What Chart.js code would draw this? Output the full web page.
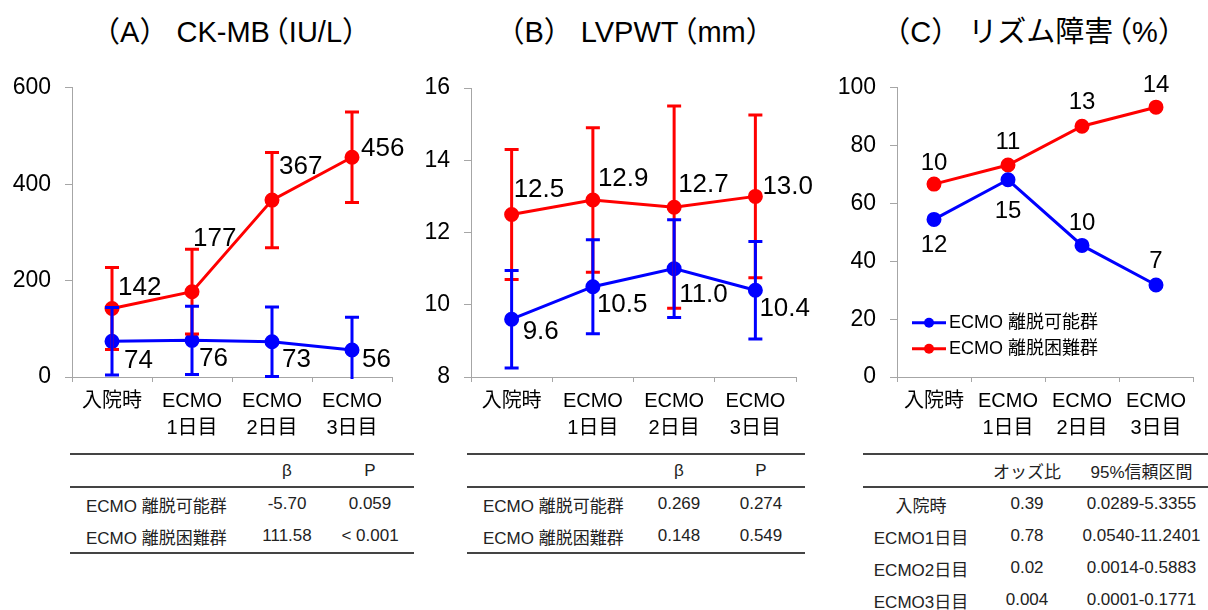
<!DOCTYPE html>
<html>
<head>
<meta charset="utf-8">
<script src="https://cdn.jsdelivr.net/npm/chart.js@4.4.1/dist/chart.umd.min.js"></script>
<style>
  body { margin: 0; width: 1208px; height: 610px; overflow: hidden; background: #fff; position: relative;
         font-family: "Liberation Sans", "Noto Sans CJK JP", sans-serif; color: #000; }
  .title { position: absolute; top: 12px; font-size: 29px; line-height: 40px; white-space: nowrap; transform: translateX(-50%); }
  .title .o { margin-left: -0.35em; }
  .title .c { margin-right: -0.35em; }
  .box { position: absolute; top: 60px; height: 390px; }
  table { position: absolute; top: 453px; border-collapse: collapse; font-size: 17px; color: #222;
          border-top: 2px solid #444; border-bottom: 2px solid #444; table-layout: fixed; }
  td { height: 32px; padding: 0; text-align: center; white-space: nowrap; }
  tr.head td { border-bottom: 2px solid #444; height: 31px; }
  td.name { text-align: left; padding-left: 16px; }
  #tabC td.name { text-align: center; padding-left: 0; }
  #tabC { border-bottom: none; }
</style>
</head>
<body>
<div class="title" style="left:226px">（A） CK-MB<span class="o">（</span>IU/L<span class="c">）</span></div>
<div class="title" style="left:630px">（B） LVPWT<span class="o">（</span>mm<span class="c">）</span></div>
<div class="title" style="left:1029px">（C） リズム障害<span class="o">（</span>%<span class="c">）</span></div>

<div class="box" style="left:0;width:410px"><canvas id="chartA"></canvas></div>
<div class="box" style="left:410px;width:410px"><canvas id="chartB"></canvas></div>
<div class="box" style="left:820px;width:388px"><canvas id="chartC"></canvas></div>

<table id="tabA" style="left:70px;width:344px"></table>
<table id="tabB" style="left:467px;width:338px"></table>
<table id="tabC" style="left:863px;width:345px"></table>

<script>
// categories and series
const categories = [['入院時'], ['ECMO', '1日目'], ['ECMO', '2日目'], ['ECMO', '3日目']];
const groupNames = ['ECMO 離脱可能群', 'ECMO 離脱困難群'];

const ckmbPossible = [74, 76, 73, 56];
const ckmbPossibleSD = [70, 71, 72, 68];
const ckmbDifficult = [142, 177, 367, 456];
const ckmbDifficultSD = [85, 88, 99, 94];

const lvpwtPossible = [9.6, 10.5, 11.0, 10.4];
const lvpwtPossibleSD = [1.35, 1.3, 1.35, 1.35];
const lvpwtDifficult = [12.5, 12.9, 12.7, 13.0];
const lvpwtDifficultSD = [1.8, 2.0, 2.8, 2.25];

const rhythmPossible = [54.5, 68.2, 45.5, 31.8];
const rhythmPossibleN = [12, 15, 10, 7];
const rhythmDifficult = [66.7, 73.3, 86.7, 93.3];
const rhythmDifficultN = [10, 11, 13, 14];

const ticksA = [0, 200, 400, 600];
const ticksB = [8, 10, 12, 14, 16];
const ticksC = [0, 20, 40, 60, 80, 100];

// tables
const ckmbBeta = ['-5.70', '111.58'];
const ckmbP = ['0.059', '< 0.001'];
const lvpwtBeta = ['0.269', '0.148'];
const lvpwtP = ['0.274', '0.549'];
const oddsRows = ['入院時', 'ECMO1日目', 'ECMO2日目', 'ECMO3日目'];
const oddsRatio = ['0.39', '0.78', '0.02', '0.004'];
const oddsCI = ['0.0289-5.3355', '0.0540-11.2401', '0.0014-0.5883', '0.0001-0.1771'];

const BLUE = '#0000ff';
const RED = '#ff0000';
const AXIS = '#a6a6a6';
const FONT = '"Liberation Sans", "Noto Sans CJK JP", sans-serif';
Chart.defaults.font.family = FONT;
Chart.defaults.color = '#000';

// error bars drawn with the y scale
const errorBars = {
    id: 'errorBars',
    afterDatasetsDraw(chart) {
        const ctx = chart.ctx, y = chart.scales.y, a = chart.chartArea;
        ctx.save();
        ctx.beginPath();
        ctx.rect(a.left - 20, a.top - 30, a.right - a.left + 40, a.bottom - a.top + 32);
        ctx.clip();
        for (let d = chart.data.datasets.length - 1; d >= 0; d--) {
            const ds = chart.data.datasets[d];
            if (!ds.errors) continue;
            const meta = chart.getDatasetMeta(d);
            ctx.strokeStyle = ds.borderColor;
            ctx.lineWidth = 3;
            ds.data.forEach(function(v, i) {
                const x = meta.data[i].x;
                const top = y.getPixelForValue(v + ds.errors[i]);
                const bot = y.getPixelForValue(v - ds.errors[i]);
                ctx.beginPath();
                ctx.moveTo(x, top); ctx.lineTo(x, bot);
                ctx.moveTo(x - 7, top); ctx.lineTo(x + 7, top);
                ctx.moveTo(x - 7, bot); ctx.lineTo(x + 7, bot);
                ctx.stroke();
            });
        }
        ctx.restore();
    }
};

// value labels next to the points
const valueLabels = {
    id: 'valueLabels',
    afterDatasetsDraw(chart, args, opts) {
        const ctx = chart.ctx;
        ctx.save();
        ctx.font = opts.size + 'px ' + FONT;
        ctx.fillStyle = '#000';
        ctx.textAlign = opts.align;
        ctx.textBaseline = 'middle';
        chart.data.datasets.forEach(function(ds, d) {
            const meta = chart.getDatasetMeta(d);
            ds.labels.forEach(function(txt, i) {
                const off = opts.offsets[d][i];
                ctx.fillText(txt, meta.data[i].x + off[0], meta.data[i].y + off[1]);
            });
        });
        ctx.restore();
    }
};

// legend inside the plot of (C)
const innerLegend = {
    id: 'innerLegend',
    afterDraw(chart, args, opts) {
        if (!opts.show) return;
        const ctx = chart.ctx, a = chart.chartArea;
        ctx.save();
        ctx.font = '18px ' + FONT;
        ctx.textBaseline = 'middle';
        ctx.textAlign = 'left';
        chart.data.datasets.forEach(function(ds, d) {
            const yy = a.top + 235 + d * 26;
            const x0 = a.left + 15;
            ctx.strokeStyle = ds.borderColor;
            ctx.fillStyle = ds.borderColor;
            ctx.lineWidth = 3;
            ctx.beginPath(); ctx.moveTo(x0, yy); ctx.lineTo(x0 + 34, yy); ctx.stroke();
            ctx.beginPath(); ctx.arc(x0 + 17, yy, 5, 0, Math.PI * 2); ctx.fill();
            ctx.fillStyle = '#000';
            ctx.fillText(ds.label, x0 + 37, yy);
        });
        ctx.restore();
    }
};

function series(label, color, data, errors, labels) {
    return {
        label: label, data: data, errors: errors, labels: labels,
        borderColor: color, backgroundColor: color,
        pointBackgroundColor: color, pointBorderColor: color,
        borderWidth: 3, pointRadius: 6, pointBorderWidth: 3, pointHoverRadius: 6, tension: 0
    };
}

function makeChart(id, datasets, ticks, yWidth, pad, labelOpts, legend) {
    new Chart(document.getElementById(id), {
        type: 'line',
        data: { labels: categories, datasets: datasets },
        plugins: [errorBars, valueLabels, innerLegend],
        options: {
            responsive: true,
            maintainAspectRatio: false,
            animation: false,
            layout: { padding: pad },
            plugins: {
                legend: { display: false },
                tooltip: { enabled: false },
                valueLabels: labelOpts,
                innerLegend: { show: legend }
            },
            scales: {
                x: {
                    offset: true,
                    grid: { offset: true, drawOnChartArea: false, tickLength: 5, color: AXIS },
                    border: { color: AXIS },
                    ticks: { font: { size: 20, lineHeight: 1.35 }, padding: 6, maxRotation: 0, autoSkip: false },
                    afterFit(s) { s.height = 73; }
                },
                y: {
                    min: ticks[0], max: ticks[ticks.length - 1],
                    afterBuildTicks(s) { s.ticks = ticks.map(function(v) { return { value: v }; }); },
                    grid: { drawOnChartArea: false, tickLength: 7, color: AXIS },
                    border: { color: AXIS },
                    ticks: { font: { size: 23 }, padding: 14 },
                    afterFit(s) { s.width = yWidth; }
                }
            }
        }
    });
}

makeChart('chartA', [
    series(groupNames[0], BLUE, ckmbPossible, ckmbPossibleSD, ckmbPossible.map(String)),
    series(groupNames[1], RED, ckmbDifficult, ckmbDifficultSD, ckmbDifficult.map(String))
], ticksA, 72, { top: 27, right: 18, left: 0, bottom: 0 }, {
    size: 26, align: 'left',
    offsets: [[[12, 19], [7, 18], [10, 18], [10, 10]], [[6, -21], [1, -53], [7, -33], [9, -8]]]
}, false);

makeChart('chartB', [
    series(groupNames[0], BLUE, lvpwtPossible, lvpwtPossibleSD, lvpwtPossible.map(function(v) { return v.toFixed(1); })),
    series(groupNames[1], RED, lvpwtDifficult, lvpwtDifficultSD, lvpwtDifficult.map(function(v) { return v.toFixed(1); }))
], ticksB, 61, { top: 28, right: 24, left: 0, bottom: 0 }, {
    size: 26, align: 'left',
    offsets: [[[11, 13], [4, 18], [5, 26], [4, 19]], [[2, -25], [5, -21], [4, -22], [7, -10]]]
}, false);

makeChart('chartC', [
    series(groupNames[0], BLUE, rhythmPossible, null, rhythmPossibleN.map(String)),
    series(groupNames[1], RED, rhythmDifficult, null, rhythmDifficultN.map(String))
], ticksC, 77, { top: 27, right: 15, left: 0, bottom: 0 }, {
    size: 24, align: 'center',
    offsets: [[[0, 26], [0, 32], [0, -22], [0, -24]], [[0, -21], [0, -23], [0, -24], [0, -22]]]
}, true);

// tables
function fillTable(id, widths, head, rows) {
    const t = document.getElementById(id);
    let html = '<colgroup>' + widths.map(function(w) { return '<col style="width:' + w + 'px">'; }).join('') + '</colgroup>';
    html += '<tr class="head">' + head.map(function(h, i) { return '<td' + (i === 0 ? ' class="name"' : '') + '>' + h + '</td>'; }).join('') + '</tr>';
    rows.forEach(function(r) {
        html += '<tr>' + r.map(function(c, i) { return '<td' + (i === 0 ? ' class="name"' : '') + '>' + c + '</td>'; }).join('') + '</tr>';
    });
    t.innerHTML = html;
}
fillTable('tabA', [178, 78, 88], ['', 'β', 'P'], groupNames.map(function(g, i) { return [g, ckmbBeta[i], ckmbP[i]]; }));
fillTable('tabB', [174, 76, 88], ['', 'β', 'P'], groupNames.map(function(g, i) { return [g, lvpwtBeta[i], lvpwtP[i]]; }));
fillTable('tabC', [116, 96, 133], ['', 'オッズ比', '95%信頼区間'], oddsRows.map(function(g, i) { return [g, oddsRatio[i], oddsCI[i]]; }));
</script>
</body>
</html>
